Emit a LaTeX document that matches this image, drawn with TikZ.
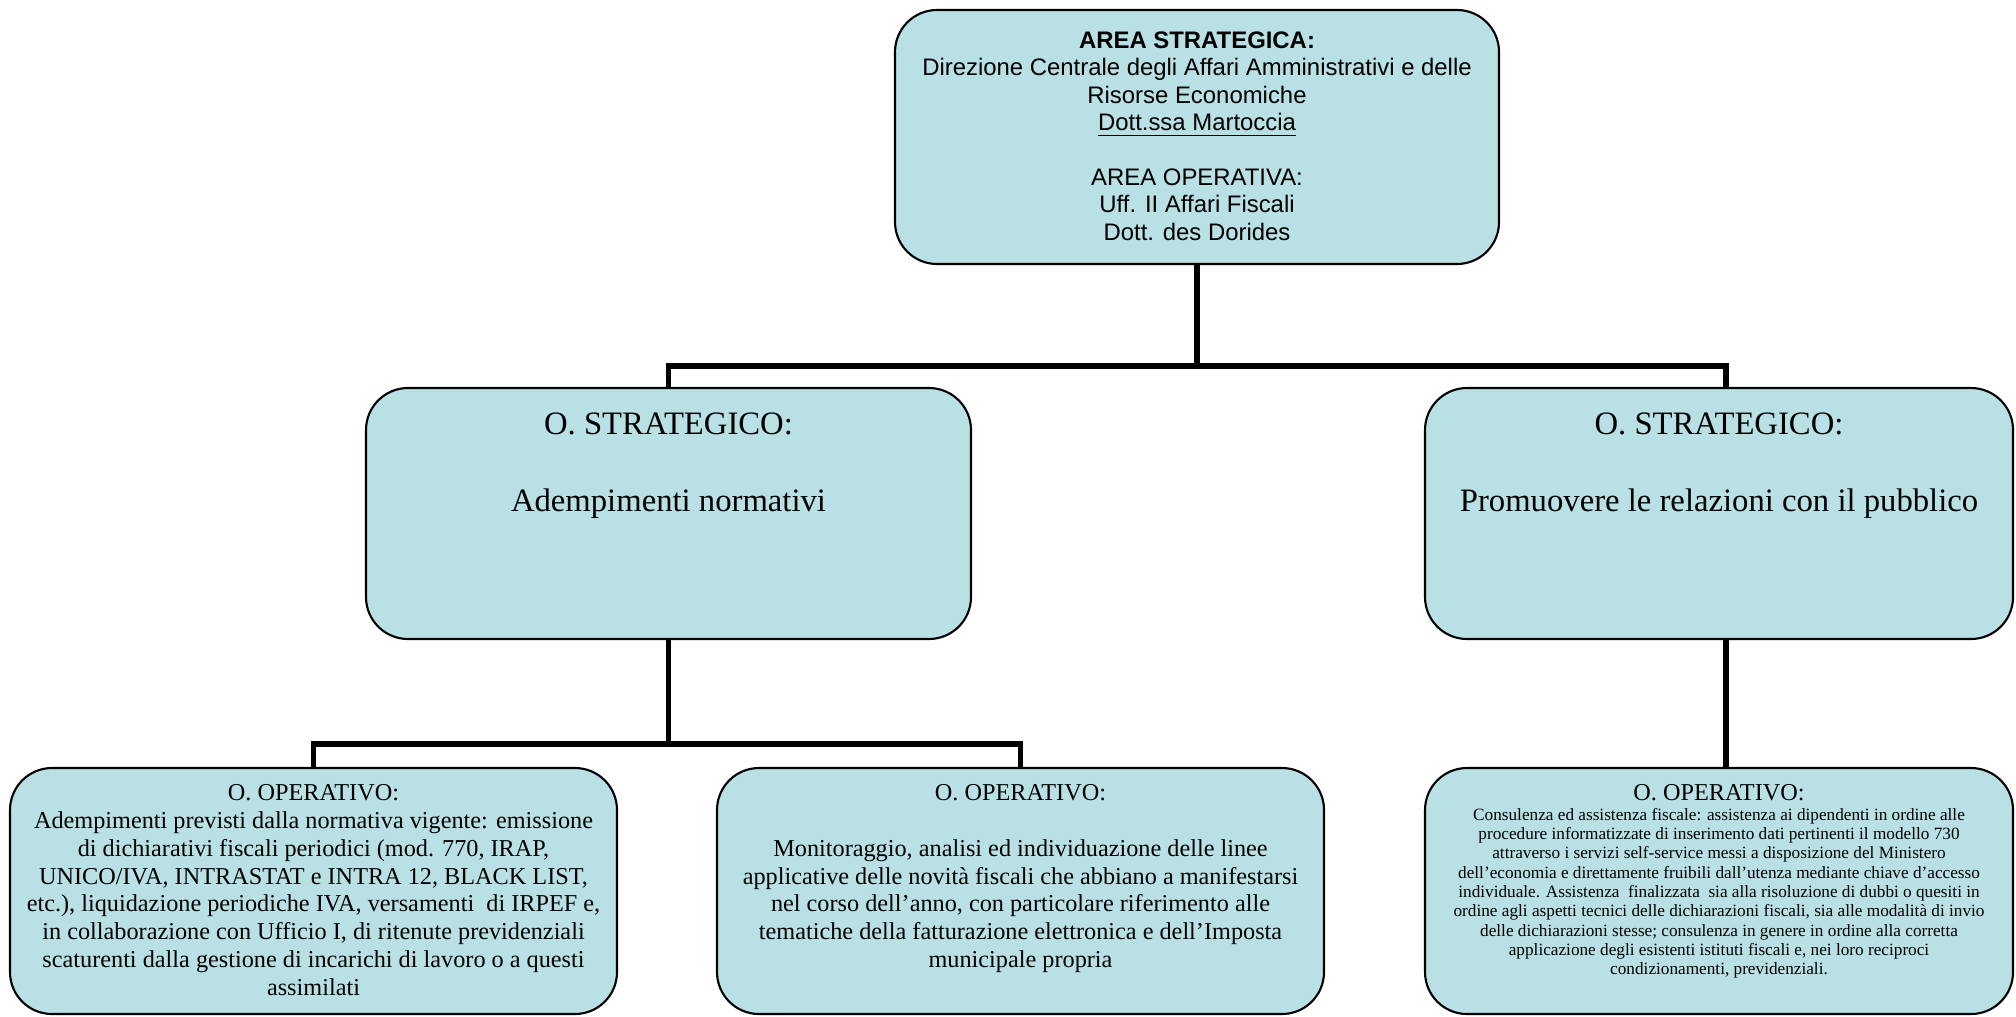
\documentclass[tikz,border=0pt]{standalone}
\usepackage{fontspec}
\setmainfont{Liberation Serif}
\newfontfamily\arialfont{Liberation Sans}
\usetikzlibrary{positioning}
\definecolor{boxfill}{RGB}{185,224,228}

\begin{document}
\begin{tikzpicture}[box/.style={draw, fill=boxfill, line width=0.6pt, rounded corners=0.42cm},
        boxtext/.style={align=center, inner sep=0pt},
        link/.style={line width=1.5pt}]

        \useasboundingbox (0,0) rectangle (20.16,-10.16);

        % Area strategica in alto
        \node[box, minimum width=6.04cm, minimum height=2.54cm] (area) at (11.97,-1.37) {};
        \node[boxtext, below=0.22cm of area.north, font=\arialfont\fontsize{6.8}{7.8}\selectfont] (areatxt)
            {\textbf{AREA STRATEGICA:}\\ Direzione Centrale degli Affari Amministrativi e delle\\ Risorse Economiche\\
             \underline{Dott.ssa Martoccia}\\[7.8pt] AREA OPERATIVA:\\ Uff. II Affari Fiscali\\ Dott. des Dorides};

        % Obiettivi strategici
        \node[box, minimum width=6.05cm, minimum height=2.51cm] (strat1) at (6.685,-5.135) {};
        \node[boxtext, below=0.25cm of strat1.north, font=\fontsize{9.3}{11}\selectfont] (strat1txt)
            {O. STRATEGICO:\\[11pt] Adempimenti normativi};
        \node[box, minimum width=5.88cm, minimum height=2.51cm] (strat2) at (17.19,-5.135) {};
        \node[boxtext, below=0.25cm of strat2.north, font=\fontsize{9.3}{11}\selectfont] (strat2txt)
            {O. STRATEGICO:\\[11pt] Promuovere le relazioni con il pubblico};

        % Obiettivi operativi
        \node[box, minimum width=6.07cm, minimum height=2.46cm] (op1) at (3.135,-8.91) {};
        \node[boxtext, below=0.17cm of op1.north, font=\fontsize{6.9}{7.9}\selectfont] (op1txt)
            {O. OPERATIVO:\\ Adempimenti previsti dalla normativa vigente: emissione\\
             di dichiarativi fiscali periodici (mod. 770, IRAP,\\ UNICO/IVA, INTRASTAT e INTRA 12, BLACK LIST,\\
             etc.), liquidazione periodiche IVA, versamenti\ \ di IRPEF e,\\
             in collaborazione con Ufficio I, di ritenute previdenziali\\
             scaturenti dalla gestione di incarichi di lavoro o a questi\\ assimilati};
        \node[box, minimum width=6.07cm, minimum height=2.46cm] (op2) at (10.205,-8.91) {};
        \node[boxtext, below=0.17cm of op2.north, font=\fontsize{6.9}{7.9}\selectfont] (op2txt)
            {O. OPERATIVO:\\[7.9pt] Monitoraggio, analisi ed individuazione delle linee\\
             applicative delle novità fiscali che abbiano a manifestarsi\\
             nel corso dell’anno, con particolare riferimento alle\\
             tematiche della fatturazione elettronica e dell’Imposta\\ municipale propria};
        \node[box, minimum width=5.88cm, minimum height=2.46cm] (op3) at (17.19,-8.91) {};
        \node[boxtext, below=0.17cm of op3.north, font=\fontsize{4.9}{5.5}\selectfont] (op3txt)
            {{\fontsize{6.9}{7.9}\selectfont O. OPERATIVO:}\\
             Consulenza ed assistenza fiscale: assistenza ai dipendenti in ordine alle\\
             procedure informatizzate di inserimento dati pertinenti il modello 730\\
             attraverso i servizi self-service messi a disposizione del Ministero\\
             dell’economia e direttamente fruibili dall’utenza mediante chiave d’accesso\\
             individuale. Assistenza\ \ finalizzata\ \ sia alla risoluzione di dubbi o quesiti in\\
             ordine agli aspetti tecnici delle dichiarazioni fiscali, sia alle modalità di invio\\
             delle dichiarazioni stesse; consulenza in genere in ordine alla corretta\\
             applicazione degli esistenti istituti fiscali e, nei loro reciproci\\
             condizionamenti, previdenziali.};

        % Collegamenti
        \draw[link] (area.south) -- ++(0,-1.01) coordinate (hub1);
        \draw[link] (strat1.north) |- (hub1) -| ([xshift=0.07cm]strat2.north);
        \draw[link] (strat1.south) -- ++(0,-1.04) coordinate (hub2);
        \draw[link] (op1.north) |- (hub2) -| (op2.north);
        \draw[link] ([xshift=0.07cm]strat2.south) -- ([xshift=0.07cm]op3.north);

    \end{tikzpicture}
\end{document}
